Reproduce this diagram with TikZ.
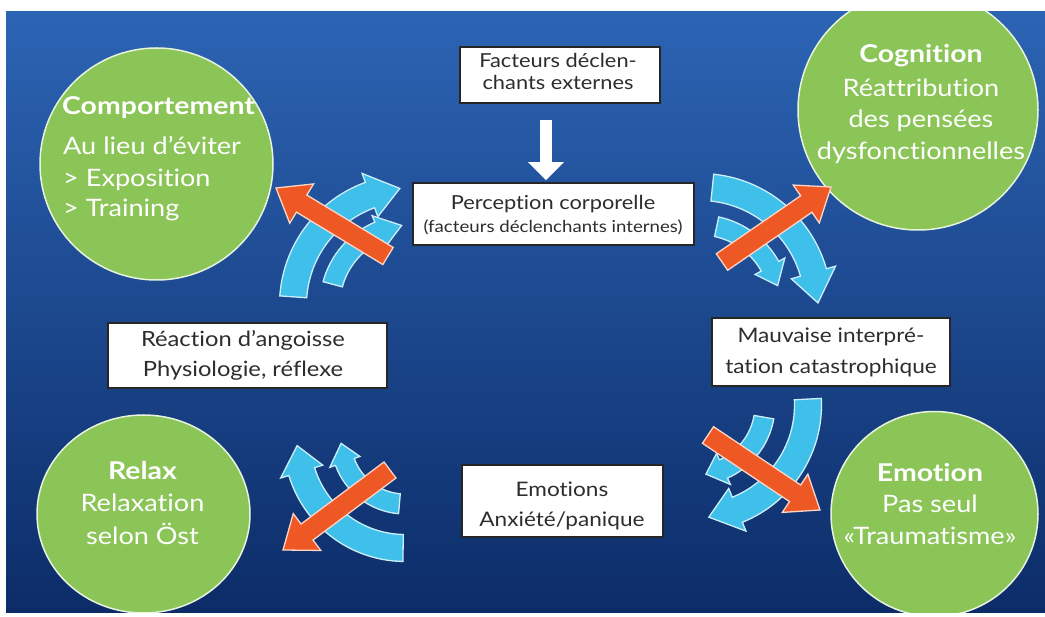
\documentclass[tikz,border=0pt]{standalone}
\usepackage{fontspec}
\setmainfont{Lato}[Ligatures=CommonOff, FakeStretch=1.13, BoldFeatures={FakeStretch=1.16}]
\usetikzlibrary{calc,arrows.meta,shapes.geometric}
\definecolor{bgtop}{RGB}{44,100,180}
\definecolor{bgmid}{RGB}{28,76,152}
\definecolor{bgbot}{RGB}{12,44,104}
\definecolor{leaf}{RGB}{139,196,87}
\definecolor{sky}{RGB}{62,192,234}
\definecolor{skyedge}{RGB}{205,238,248}
\definecolor{flame}{RGB}{238,88,36}
\definecolor{ink}{RGB}{45,45,45}
\tikzset{
  bubble/.style={ellipse, fill=leaf, draw=white!80!leaf, line width=1.5pt, inner sep=0pt},
  headtext/.style={text=white, font=\fontsize{24.5}{28}\selectfont\bfseries, anchor=base, inner sep=0pt},
  bodytext/.style={text=white, font=\fontsize{24}{28}\selectfont, anchor=base, inner sep=0pt},
  labelbox/.style={draw=black!85, line width=1.6pt, fill=white, inner sep=0pt},
  boxtext/.style={text=ink, font=\fontsize{19.3}{23}\selectfont, anchor=base, inner sep=0pt},
  smalltext/.style={text=ink, font=\fontsize{16.5}{19}\selectfont, anchor=base, inner sep=0pt},
  bentarr/.style={fill=sky, draw=skyedge, line width=1.3pt, line join=miter},
  flamearr/.style={fill=flame, draw=white!75!flame, line width=1.3pt, line join=miter},
}
% curved arrow: cx, cy, r, width, start angle, head base angle, tip angle, head half width
\newcommand\bentarrow[8]{%
  \pgfmathsetmacro\bRo{#3+#4/2}\pgfmathsetmacro\bRi{#3-#4/2}%
  \pgfmathsetmacro\bHo{#3+#8}\pgfmathsetmacro\bHi{#3-#8}%
  \draw[bentarr] ([shift={(#1,#2)}]#5:\bRo) arc[start angle=#5, end angle=#6, radius=\bRo]
    -- ([shift={(#1,#2)}]#6:\bHo) -- ([shift={(#1,#2)}]#7:#3) -- ([shift={(#1,#2)}]#6:\bHi)
    -- ([shift={(#1,#2)}]#6:\bRi) arc[start angle=#6, end angle=#5, radius=\bRi] -- cycle;}
% straight arrow from tail coordinate #1 to tip coordinate #2
\newcommand\flamearrow[2]{%
  \coordinate (#1h) at ($(#2)!30pt!(#1)$);
  \draw[flamearr] ($(#1)!10pt!90:(#2)$) -- ($(#1h)!10pt!90:(#2)$) -- ($(#1h)!23pt!90:(#2)$)
    -- (#2) -- ($(#1h)!23pt!-90:(#2)$) -- ($(#1h)!10pt!-90:(#2)$) -- ($(#1)!10pt!-90:(#2)$) -- cycle;}
\begin{document}
\begin{tikzpicture}[x=1pt,y=-1pt]
\useasboundingbox (0,0) rectangle (1045,617);
\fill[white] (0,0) rectangle (1045,617);
\shade[top color=bgtop, middle color=bgmid, bottom color=bgbot] (6,12) rectangle (1045,612);
\begin{scope}
\clip (6,12) rectangle (1045,612);
\node[bubble, minimum width=233pt, minimum height=232pt] (comp) at (156.5,164) {};
\node[bubble, minimum width=240pt, minimum height=240pt] (cogn) at (918,110) {};
\node[bubble, minimum width=213pt, minimum height=198pt] (relax) at (143.5,514) {};
\node[bubble, minimum width=207pt, minimum height=205pt] (emot) at (934.5,514) {};
\end{scope}
% circle texts
\node[headtext, anchor=base west] (comp1) at (62,115) {Comportement};
\node[bodytext, anchor=base west] (comp2) at (63,155) {Au lieu d’éviter};
\node[bodytext, anchor=base west] (comp3) at (63,187) {> Exposition};
\node[bodytext, anchor=base west] (comp4) at (63,217) {> Training};
\node[headtext] (cogn1) at (921,63) {Cognition};
\node[bodytext] (cogn2) at (921,97) {Réattribution};
\node[bodytext] (cogn3) at (921,128) {des pensées};
\node[bodytext] (cogn4) at (921,160) {dysfonctionnelles};
\node[headtext] (relax1) at (142.5,480) {Relax};
\node[bodytext] (relax2) at (142.5,512) {Relaxation};
\node[bodytext] (relax3) at (142.5,545) {selon Öst};
\node[headtext] (emot1) at (930,482) {Emotion};
\node[bodytext] (emot2) at (930,513) {Pas seul};
\node[bodytext] (emot3) at (930,545) {«Traumatisme»};
% cyan curved arrows
\bentarrow{410}{305}{117}{27}{184}{250}{265}{23}
\bentarrow{410}{305}{80}{20}{195}{247}{264}{17}
\bentarrow{700}{305}{118}{27}{276}{344}{359}{23}
\bentarrow{700}{305}{80}{20}{282}{331}{346}{17}
\bentarrow{695}{405}{113}{27}{-3}{68}{83}{23}
\bentarrow{695}{405}{70}{20}{10}{66}{81}{17}
\bentarrow{405}{440}{108}{27}{91}{163}{177}{22}
\bentarrow{405}{440}{64}{20}{95}{160}{177}{16}
% orange arrows
\coordinate (tlA) at (388,256); \coordinate (tlB) at (276,188);
\coordinate (trA) at (722,262); \coordinate (trB) at (831,187);
\coordinate (brA) at (708,435); \coordinate (brB) at (820,510);
\coordinate (blA) at (390,470); \coordinate (blB) at (283,550);
\flamearrow{tlA}{tlB}
\flamearrow{trA}{trB}
\flamearrow{brA}{brB}
\flamearrow{blA}{blB}
% boxes
\node[labelbox, minimum width=200pt, minimum height=56pt] (fact) at (560,75) {};
\node[labelbox, minimum width=281pt, minimum height=62pt] (perc) at (553.5,214) {};
\node[labelbox, minimum width=279pt, minimum height=65pt] (reac) at (247.5,355.5) {};
\node[labelbox, minimum width=238pt, minimum height=68pt] (mauv) at (831,352) {};
\node[labelbox, minimum width=201pt, minimum height=72pt] (emos) at (562.5,501) {};
\node[boxtext] (fact1) at (558,68) {Facteurs déclen-};
\node[boxtext] (fact2) at (558,90) {chants externes};
\node[boxtext] (perc1) at (553,210) {Perception corporelle};
\node[smalltext] (perc2) at (553,233) {(facteurs déclenchants internes)};
\node[boxtext, font=\fontsize{21}{25}\selectfont] (reac1) at (243,347) {Réaction d’angoisse};
\node[boxtext, font=\fontsize{21}{25}\selectfont] (reac2) at (243,377) {Physiologie, réflexe};
\node[boxtext, font=\fontsize{20}{24}\selectfont] (mauv1) at (831,343) {Mauvaise interpré-};
\node[boxtext, font=\fontsize{20}{24}\selectfont] (mauv2) at (831,374) {tation catastrophique};
\node[boxtext, font=\fontsize{20}{24}\selectfont] (emos1) at (562,497) {Emotions};
\node[boxtext, font=\fontsize{20}{24}\selectfont] (emos2) at (562,527) {Anxiété/panique};
% white arrow
\coordinate (wa) at (546,120);
\draw[white, line width=12pt, -{Triangle[width=35pt,length=18pt]}] (wa) -- ($(wa |- perc.north)+(0,-2)$);
\end{tikzpicture}
\end{document}
